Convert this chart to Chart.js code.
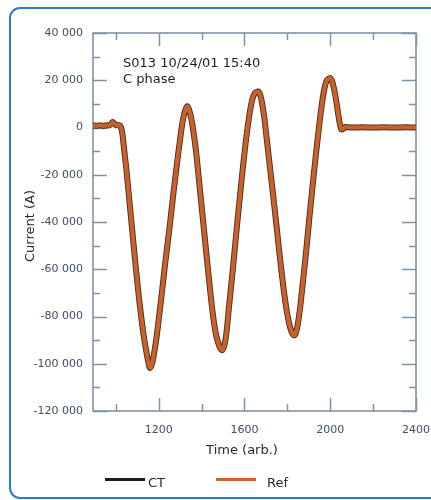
<!DOCTYPE html>
<html><head><meta charset="utf-8">
<script src="https://cdn.jsdelivr.net/npm/chart.js@4"></script>
<style>html,body{margin:0;padding:0;background:#fff}#wrap{width:431px;height:500px;position:relative}</style>
</head><body><div id="wrap"><canvas id="c"></canvas></div>
<script>
// ---- data ----
const seriesNames = ['CT', 'Ref'];
const timeArb = [894,910,925,940,955,968,978,986,994,1004,1014,1022,1030,1040,1050,1060,1070,1080,1090,1100,1110,1120,1130,1140,1150,1160,1170,1180,1190,1200,1210,1220,1230,1240,1250,1260,1270,1280,1290,1300,1310,1320,1327,1334,1342,1355,1365,1375,1385,1395,1405,1415,1425,1435,1445,1455,1465,1475,1485,1497,1507,1517,1527,1537,1547,1557,1567,1577,1587,1597,1607,1617,1627,1637,1647,1656,1664,1673,1683,1693,1703,1713,1723,1733,1743,1753,1763,1773,1783,1793,1803,1813,1822,1832,1842,1852,1862,1872,1882,1892,1902,1912,1922,1932,1942,1952,1962,1972,1982,1992,1999,2008,2015,2025,2035,2045,2052,2060,2070,2100,2150,2200,2250,2300,2350,2400];
const ctCurrent = [900,700,1000,700,900,800,1500,2300,1600,900,1100,600,-2000,-10000,-18000,-27500,-37000,-46500,-56000,-65000,-73500,-81000,-88000,-93500,-98500,-101800,-99800,-95000,-89000,-81500,-74000,-66000,-58000,-50500,-43000,-35000,-27000,-19500,-12000,-5000,1500,6000,8000,9000,7500,2500,-3500,-10500,-19500,-28500,-37500,-46500,-55500,-64500,-73000,-80500,-86500,-90300,-93000,-94300,-92000,-86300,-77000,-68000,-59000,-49500,-40000,-31000,-22000,-13500,-5500,1500,7500,12000,14300,15000,15200,14000,10000,4000,-4000,-12000,-20000,-28000,-36000,-44500,-53000,-61000,-68500,-75000,-80500,-84500,-87000,-88000,-86300,-81500,-74500,-66000,-57500,-48500,-39000,-30000,-21000,-12500,-4500,3500,10500,16000,19500,20600,21000,19800,17500,13000,7000,1500,-800,-600,200,0,100,0,100,0,100,0];
const refCurrent = [900,700,1000,700,900,800,1500,2300,1600,900,1100,600,-2000,-10000,-18000,-27500,-37000,-46500,-56000,-65000,-73500,-81000,-88000,-93500,-98500,-101800,-99800,-95000,-89000,-81500,-74000,-66000,-58000,-50500,-43000,-35000,-27000,-19500,-12000,-5000,1500,6000,8000,9000,7500,2500,-3500,-10500,-19500,-28500,-37500,-46500,-55500,-64500,-73000,-80500,-86500,-90300,-93000,-94300,-92000,-86300,-77000,-68000,-59000,-49500,-40000,-31000,-22000,-13500,-5500,1500,7500,12000,14300,15000,15200,14000,10000,4000,-4000,-12000,-20000,-28000,-36000,-44500,-53000,-61000,-68500,-75000,-80500,-84500,-87000,-88000,-86300,-81500,-74500,-66000,-57500,-48500,-39000,-30000,-21000,-12500,-4500,3500,10500,16000,19500,20600,21000,19800,17500,13000,7000,1500,-800,-600,200,0,100,0,100,0,100,0];
const xTickValues = [1000,1200,1400,1600,1800,2000,2200,2400];
const xLabelValues = [1200,1600,2000,2400];
const yTickValues = [-120000,-110000,-100000,-90000,-80000,-70000,-60000,-50000,-40000,-30000,-20000,-10000,0,10000,20000,30000,40000];
const yLabelValues = [-120000,-100000,-80000,-60000,-40000,-20000,0,20000,40000];
const annotationLines = ['S013 10/24/01 15:40', 'C phase'];
const xTitle = 'Time (arb.)';
const yTitle = 'Current (A)';

// ---- styling ----
const FONT = '"DejaVu Sans", sans-serif';
const AXIS = '#8093a6';
const LABEL = '#3c4f63';
const seriesColors = ['#4a2e20', '#c8612b'];
const legendColors = ['#1c1c1c', '#d4612a'];

function fmt(v) {
  const s = String(Math.abs(v)).replace(/\B(?=(\d{3})+(?!\d))/g, ' ');
  return (v < 0 ? '-' : '') + s;
}

const decor = {
  id: 'decor',
  beforeDraw(chart) {
    const c = chart.ctx;
    c.save();
    c.fillStyle = '#fff';
    c.fillRect(0, 0, chart.width, chart.height);
    c.strokeStyle = '#2a7dc9';
    c.lineWidth = 2;
    const x = 10, y = 8, w = 470, h = 490, r = 10;
    c.beginPath();
    c.moveTo(x + r, y);
    c.lineTo(x + w - r, y);
    c.arcTo(x + w, y, x + w, y + r, r);
    c.lineTo(x + w, y + h - r);
    c.arcTo(x + w, y + h, x + w - r, y + h, r);
    c.lineTo(x + r, y + h);
    c.arcTo(x, y + h, x, y + h - r, r);
    c.lineTo(x, y + r);
    c.arcTo(x, y, x + r, y, r);
    c.closePath();
    c.stroke();
    c.restore();
  },
  beforeDatasetsDraw(chart) {
    const { left, right, top, bottom } = chart.chartArea;
    const c = chart.ctx;
    c.save();
    c.strokeStyle = AXIS;
    c.lineWidth = 1.6;
    c.strokeRect(left, top, right - left, bottom - top);
    c.lineWidth = 1.5;
    const xs = chart.scales.x, ys = chart.scales.y;
    xs.ticks.forEach(t => {
      const px = Math.round(xs.getPixelForValue(t.value)) + 0.5;
      const len = xLabelValues.includes(t.value) ? 13 : 7;
      c.beginPath();
      c.moveTo(px, bottom); c.lineTo(px, bottom - len);
      c.moveTo(px, top); c.lineTo(px, top + len);
      c.stroke();
    });
    ys.ticks.forEach(t => {
      const py = Math.round(ys.getPixelForValue(t.value)) + 0.5;
      const len = yLabelValues.includes(t.value) ? 14 : 7;
      c.beginPath();
      c.moveTo(left, py); c.lineTo(left + len, py);
      c.moveTo(right, py); c.lineTo(right - len, py);
      c.stroke();
    });
    c.restore();
  },
  afterDraw(chart) {
    const c = chart.ctx;
    c.save();
    c.fillStyle = '#1e1e1e';
    c.font = '13px ' + FONT;
    c.textAlign = 'left';
    c.textBaseline = 'alphabetic';
    c.fillText(annotationLines[0], 123, 66.5);
    c.fillText(annotationLines[1], 123, 83);
    c.fillStyle = '#2a2a2a';
    c.textAlign = 'center';
    c.fillText(xTitle, 242, 454);
    c.save();
    c.translate(34, 226);
    c.rotate(-Math.PI / 2);
    c.fillText(yTitle, 0, 0);
    c.restore();
    const items = [[105, 145, 148], [216, 256, 267]];
    chart.data.datasets.forEach((ds, i) => {
      const [x0, x1, tx] = items[i];
      c.strokeStyle = legendColors[i];
      c.lineWidth = 3;
      c.beginPath(); c.moveTo(x0, 479.5); c.lineTo(x1, 479.5); c.stroke();
      c.fillStyle = '#2a2a2a';
      c.textAlign = 'left';
      c.fillText(ds.label, tx, 486.5);
    });
    c.restore();
  }
};

const toPoints = vals => timeArb.map((t, i) => ({ x: t, y: vals[i] }));

new Chart(document.getElementById('c'), {
  type: 'line',
  data: {
    datasets: [
      { label: seriesNames[0], data: toPoints(ctCurrent), borderColor: seriesColors[0], borderWidth: 6, pointRadius: 0, cubicInterpolationMode: 'monotone', order: 2, borderJoinStyle: 'round', borderCapStyle: 'round' },
      { label: seriesNames[1], data: toPoints(refCurrent), borderColor: seriesColors[1], borderWidth: 4.2, pointRadius: 0, cubicInterpolationMode: 'monotone', order: 1, borderJoinStyle: 'round', borderCapStyle: 'round' }
    ]
  },
  options: {
    responsive: true,
    maintainAspectRatio: false,
    animation: false,
    events: [],
    layout: { padding: { left: 0, top: 33, right: 15, bottom: 0 } },
    plugins: { legend: { display: false }, tooltip: { enabled: false } },
    scales: {
      x: {
        type: 'linear',
        min: 894, max: 2400,
        afterBuildTicks: s => { s.ticks = xTickValues.map(v => ({ value: v })); },
        afterFit: s => { s.height = 89; s.paddingLeft = 0; s.paddingRight = 0; },
        grid: { display: false, drawTicks: false },
        border: { display: false },
        ticks: {
          autoSkip: false, maxRotation: 0, padding: 13,
          color: LABEL, font: { family: FONT, size: 11 },
          callback: v => xLabelValues.includes(v) ? String(v) : ''
        }
      },
      y: {
        type: 'linear',
        min: -120000, max: 40000,
        afterBuildTicks: s => { s.ticks = yTickValues.map(v => ({ value: v })); },
        afterFit: s => { s.width = 93; s.paddingTop = 0; s.paddingBottom = 0; },
        grid: { display: false, drawTicks: false },
        border: { display: false },
        ticks: {
          autoSkip: false, padding: 10,
          color: LABEL, font: { family: FONT, size: 11 },
          callback: v => yLabelValues.includes(v) ? fmt(v) : ''
        }
      }
    }
  },
  plugins: [decor]
});
</script>
</body></html>
